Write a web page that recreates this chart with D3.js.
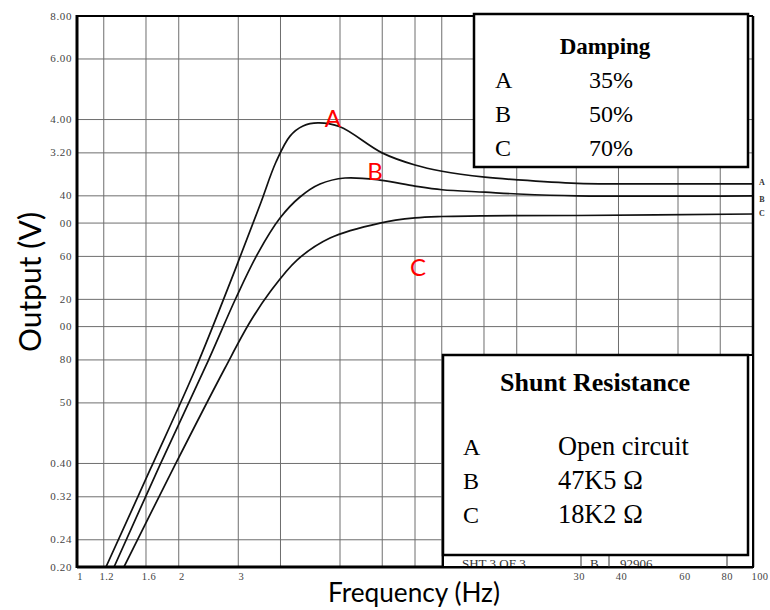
<!DOCTYPE html>
<html><head><meta charset="utf-8">
<script src="https://cdn.jsdelivr.net/npm/d3@7"></script>
<style>
html,body{margin:0;padding:0;background:#fff;}
svg{display:block;}
</style></head>
<body>
<svg id="chart" width="770" height="610"></svg>
<script>
// ---------- data ----------
const freqA = [1.218, 1.644, 2.234, 2.934, 3.478, 3.879, 4.268, 4.663, 5.164, 6.0, 7.99, 10, 12.02, 16.1, 20.2, 30.2, 40, 100];
const outA  = [0.20, 0.383, 0.748, 1.46, 2.257, 3.01, 3.58, 3.83, 3.91, 3.81, 3.20, 2.95, 2.83, 2.72, 2.67, 2.61, 2.60, 2.60];
const freqB = [1.287, 1.76, 2.442, 2.953, 3.432, 3.987, 4.568, 5.236, 6.207, 7.879, 10, 12.02, 16.1, 20.2, 30.2, 100];
const outB  = [0.20, 0.396, 0.794, 1.211, 1.636, 2.068, 2.381, 2.597, 2.704, 2.667, 2.562, 2.50, 2.46, 2.43, 2.40, 2.40];
const freqC = [1.377, 1.95, 2.741, 3.25, 3.724, 4.476, 5.605, 7.88, 10, 12.02, 16.1, 30.2, 100];
const outC  = [0.20, 0.396, 0.758, 1.031, 1.26, 1.561, 1.81, 2.0, 2.07, 2.09, 2.10, 2.104, 2.125];

const xGridVals = [1.2, 1.6, 2, 3, 4, 6, 8, 10, 12, 16, 20, 30, 40, 60, 80];
const yGridVals = [0.24, 0.32, 0.4, 0.6, 0.8, 1, 1.2, 1.6, 2, 2.4, 3.2, 4, 6];
const yTickVals = [8, 6, 4, 3.2, 2.4, 2, 1.6, 1.2, 1, 0.8, 0.6, 0.4, 0.32, 0.24, 0.2];
const yTickText = ["8.00", "6.00", "4.00", "3.20", "40", "00", "60", "20", "00", "80", "50", "0.40", "0.32", "0.24", "0.20"];
const xTickVals = [1, 1.2, 1.6, 2, 3, 30, 40, 60, 80, 100];
const xTickText = ["1", "1.2", "1.6", "2", "3", "30", "40", "60", "80", "100"];

const curveNames = ["A", "B", "C"];
const redLabelFreq = [5.72, 7.61, 10.2];
const redLabelOut = [4.04, 2.83, 1.49];

const dampingTitle = "Damping";
const dampingVals = ["35%", "50%", "70%"];
const shuntTitle = "Shunt Resistance";
const shuntVals = ["Open circuit", "47K5 \u03A9", "18K2 \u03A9"];

const xTitle = "Frequency (Hz)";
const yTitle = "Output (V)";

// ---------- drawing ----------
const svg = d3.select("#chart");
const L = 77, R = 753, T = 16, B = 567;
const x = d3.scaleLog().domain([1, 100]).range([L, R]);
const y = d3.scaleLog().domain([0.2, 8]).range([B, T]);
const serif = "'Liberation Serif','Times New Roman',serif";
const sans = "Lato,'Open Sans','Liberation Sans',sans-serif";

function fitWidth(sel, target) {
  const w = sel.node().getComputedTextLength();
  const fs = parseFloat(sel.attr("font-size"));
  sel.attr("font-size", fs * target / w);
}

svg.append("rect").attr("width", 770).attr("height", 610).attr("fill", "#fff");

// grid
const grid = svg.append("g");
grid.selectAll("line.v").data(xGridVals).join("line")
  .attr("x1", d => x(d)).attr("x2", d => x(d)).attr("y1", T).attr("y2", B)
  .attr("stroke", "#6e6e6e").attr("stroke-width", 1);
grid.selectAll("line.h").data(yGridVals).join("line")
  .attr("x1", L).attr("x2", R).attr("y1", d => y(d)).attr("y2", d => y(d))
  .attr("stroke", "#6e6e6e").attr("stroke-width", 1);

// curves
const clip = svg.append("clipPath").attr("id", "plotclip");
clip.append("rect").attr("x", L).attr("y", T).attr("width", R - L).attr("height", B - T);
const line = d3.line().x(d => x(d[0])).y(d => y(d[1])).curve(d3.curveCatmullRom.alpha(0.5));
const series = [d3.zip(freqA, outA), d3.zip(freqB, outB), d3.zip(freqC, outC)];
svg.append("g").attr("clip-path", "url(#plotclip)")
  .selectAll("path").data(series).join("path")
  .attr("d", line).attr("fill", "none").attr("stroke", "#111").attr("stroke-width", 1.7);

// frame
svg.append("line").attr("x1", L).attr("x2", L).attr("y1", T - 1).attr("y2", B + 1).attr("stroke", "#000").attr("stroke-width", 3);
svg.append("line").attr("x1", L).attr("x2", R).attr("y1", B).attr("y2", B).attr("stroke", "#000").attr("stroke-width", 3);
svg.append("line").attr("x1", L).attr("x2", R).attr("y1", T).attr("y2", T).attr("stroke", "#000").attr("stroke-width", 2);
svg.append("line").attr("x1", R).attr("x2", R).attr("y1", T).attr("y2", B).attr("stroke", "#000").attr("stroke-width", 2.5);

// right-edge small curve letters
const endVals = [outA[outA.length - 1], outB[outB.length - 1], outC[outC.length - 1]];
const endShift = [-2, 3, -1];
svg.selectAll("text.endlab").data(curveNames).join("text")
  .attr("x", R + 9).attr("y", (d, i) => y(endVals[i]) + endShift[i])
  .attr("dy", "0.35em").attr("text-anchor", "middle")
  .attr("font-family", serif).attr("font-size", 8).attr("font-weight", "bold").attr("fill", "#333")
  .text(d => d);

// y tick labels
svg.selectAll("text.yt").data(yTickVals).join("text")
  .attr("x", L - 5).attr("y", d => y(d)).attr("dy", "0.32em").attr("text-anchor", "end")
  .attr("font-family", serif).attr("font-size", 11).attr("letter-spacing", 0.6).attr("fill", "#444")
  .text((d, i) => yTickText[i]);

// x tick labels
svg.selectAll("text.xt").data(xTickVals).join("text")
  .attr("x", d => x(d) + (d >= 60 ? 7 : 3)).attr("y", B + 13).attr("text-anchor", "middle")
  .attr("font-family", serif).attr("font-size", 10.5).attr("letter-spacing", 0.4).attr("fill", "#444")
  .text((d, i) => xTickText[i]);

// red curve labels
svg.selectAll("text.red").data(curveNames).join("text")
  .attr("x", (d, i) => x(redLabelFreq[i])).attr("y", (d, i) => y(redLabelOut[i]))
  .attr("dy", "0.36em").attr("text-anchor", "middle")
  .attr("font-family", sans).attr("font-size", 24).attr("fill", "#ff0000")
  .text(d => d);

// axis titles
const xt = svg.append("text").attr("x", 414).attr("y", 602).attr("text-anchor", "middle")
  .attr("font-family", sans).attr("font-size", 24).attr("fill", "#000").text(xTitle);
fitWidth(xt, 172);
const yt = svg.append("text").attr("transform", "translate(41,282) rotate(-90)").attr("text-anchor", "middle")
  .attr("font-family", sans).attr("font-size", 24).attr("fill", "#000").text(yTitle);
fitWidth(yt, 140);

// Damping box
const dg = svg.append("g");
dg.append("rect").attr("x", 474).attr("y", 14).attr("width", 274).attr("height", 153)
  .attr("fill", "#fff").attr("stroke", "#000").attr("stroke-width", 2.5);
dg.append("text").attr("x", 605).attr("y", 54).attr("text-anchor", "middle")
  .attr("font-family", serif).attr("font-size", 23).attr("font-weight", "bold").text(dampingTitle);
dg.selectAll("text.k").data(curveNames).join("text")
  .attr("x", 495).attr("y", (d, i) => 88 + i * 34)
  .attr("font-family", serif).attr("font-size", 24).text(d => d);
dg.selectAll("text.v").data(dampingVals).join("text")
  .attr("x", 589).attr("y", (d, i) => 88 + i * 34)
  .attr("font-family", serif).attr("font-size", 24).text(d => d);

// Shunt box with title-block strip below
const sg = svg.append("g");
sg.append("rect").attr("x", 443).attr("y", 355).attr("width", R - 443).attr("height", B - 355)
  .attr("fill", "#fff").attr("stroke", "#000").attr("stroke-width", 2);
const stripClip = svg.append("clipPath").attr("id", "stripclip");
stripClip.append("rect").attr("x", 444).attr("y", 557).attr("width", R - 445).attr("height", 9);
const strip = sg.append("g").attr("clip-path", "url(#stripclip)");
strip.append("text").attr("x", 462).attr("y", 568).attr("font-family", serif).attr("font-size", 13).attr("fill", "#333").text("SHT  3  OF  3");
strip.append("text").attr("x", 590).attr("y", 568).attr("font-family", serif).attr("font-size", 13).attr("fill", "#333").text("B");
strip.append("text").attr("x", 620).attr("y", 568).attr("font-family", serif).attr("font-size", 13).attr("fill", "#333").text("92906");
[581, 609, 727].forEach(px => sg.append("line").attr("x1", px).attr("x2", px).attr("y1", 555).attr("y2", B)
  .attr("stroke", "#333").attr("stroke-width", 1));
sg.append("rect").attr("x", 443).attr("y", 355).attr("width", 305).attr("height", 200)
  .attr("fill", "#fff").attr("stroke", "#000").attr("stroke-width", 2.5);
const st = sg.append("text").attr("x", 595).attr("y", 391).attr("text-anchor", "middle")
  .attr("font-family", serif).attr("font-size", 24).attr("font-weight", "bold").text(shuntTitle);
fitWidth(st, 190);
sg.selectAll("text.k").data(curveNames).join("text")
  .attr("x", 463).attr("y", (d, i) => 455 + i * 34)
  .attr("font-family", serif).attr("font-size", 24).text(d => d);
const sv = sg.selectAll("text.v").data(shuntVals).join("text")
  .attr("x", 558).attr("y", (d, i) => 455 + i * 34)
  .attr("font-family", serif).attr("font-size", 24).text(d => d);
fitWidth(d3.select(sv.nodes()[0]), 131);
const svfs = d3.select(sv.nodes()[0]).attr("font-size");
sv.attr("font-size", svfs);
</script>
</body></html>
